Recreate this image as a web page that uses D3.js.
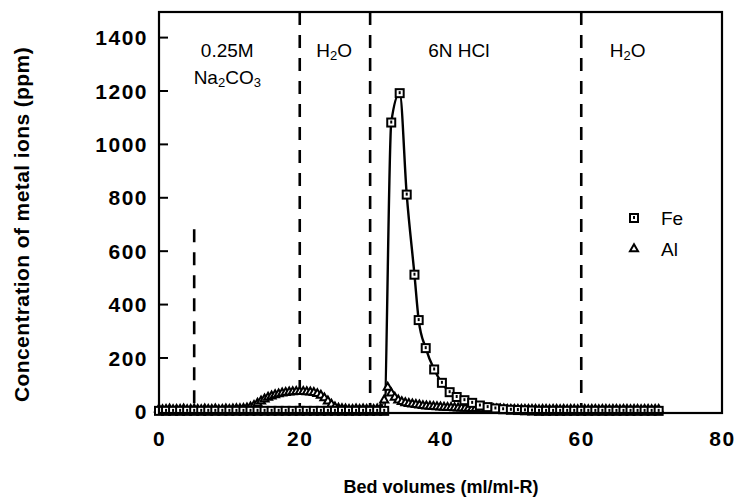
<!DOCTYPE html>
<html>
<meta charset="utf-8">
<style>
  body {
    margin: 0;
    background-color: #fff;
  }
  text {
    font-family: 'Liberation Sans', Arial, sans-serif;
  }
  .tick-label {
    font-weight: bold;
    font-size: 21px;
    letter-spacing: 1.5px;
  }
  .axis-title {
    font-weight: bold;
    font-size: 18px;
  }
  .y-title {
    font-size: 21px;
    letter-spacing: 0.4px;
  }
  .note {
    font-size: 19px;
  }
</style>
<body>
<script src="https://cdn.jsdelivr.net/npm/d3@7"></script>
<script>

// Fe (squares, with line)
var feBV = [0,1,2,3,4,5,6,7,8,9,10,11,12,13,14,15,16,17,18,19,20,21,22,23,24,25,26,27,28,29,30,31,
  32,33,34.2,35.2,36.3,36.9,37.9,39.1,40.2,41.3,42.3,43.4,44.5,45.6,46.7,47.8,48.9,
  50,51,52,53,54,55,56,57,58,59,60,61,62,63,64,65,66,67,68,69,70,71];
var feConc = [0,0,0,0,0,0,0,0,0,0,0,0,0,0,0,0,0,0,0,0,0,0,0,0,0,0,0,0,0,0,0,0,
  0,1080,1190,810,510,340,235,155,105,70,52,40,30,20,14,9,6,
  4,3,2,1,0,0,0,0,0,0,0,0,0,0,0,0,0,0,0,0,0,0];

// Al (triangles)
var alBV = [0,0.5,1,1.5,2,2.5,3,3.5,4,4.5,5,5.5,6,6.5,7,7.5,8,8.5,9,9.5,10,10.5,11,11.5,12,
  12.5,13,13.5,14,14.5,15,15.5,16,16.5,17,
  17.5,18,18.5,19,19.5,20,20.5,21,21.5,22,
  22.5,23,23.5,24,24.5,25,25.5,26,26.5,27,
  27.5,28,28.5,29,29.5,30,30.5,31,31.5,32,
  32.5,33,33.5,34,34.5,35,35.5,36,36.5,37,
  37.5,38,38.5,39,39.5,40,40.5,41,41.5,42,
  42.5,43,43.5,44,44.5,45,45.5,46,46.5,47,
  47.5,48,48.5,49,49.5,50,50.5,51,51.5,52,
  52.5,53,53.5,54,54.5,55,55.5,56,56.5,57,
  57.5,58,58.5,59,59.5,60,60.5,61,61.5,62,
  62.5,63,63.5,64,64.5,65,65.5,66,66.5,67,
  67.5,68,68.5,69,69.5,70,70.5,71];
var alConc = [6,4,5,6,4,5,5,6,4,5,6,5,4,6,5,5,6,4,5,6,5,6,7,7,8,
  10,14,20,28,36,44,50,55,60,63,
  66,68,70,71,72,72,72,71,70,68,
  64,58,48,36,24,14,9,7,6,5,
  5,6,5,6,5,6,5,6,8,40,
  88,66,50,40,34,30,27,25,23,21,
  19,18,17,16,15,14,13,12,12,11,
  10,10,9,9,8,8,8,7,7,7,
  6,6,6,6,5,5,5,5,5,5,
  5,5,5,4,5,5,4,5,5,4,
  5,4,5,5,4,5,5,4,5,5,
  4,5,5,4,5,5,4,5,5,4,
  5,5,4,5,5,4,5,5];

var xTicks = [0, 20, 40, 60, 80];
var yTicks = [0, 200, 400, 600, 800, 1000, 1200, 1400];

// eluent boundaries (dashed) and labels
var stepBV = [5, 20, 30, 60];
var stepTop = [680, null, null, null];
var stepNotes = [
  {bv: 9.7, line1: '0.25M', line2: ['Na', '2', 'CO', '3']},
  {bv: 24.9, line1: ['H', '2', 'O']},
  {bv: 42.6, line1: '6N HCl'},
  {bv: 66.6, line1: ['H', '2', 'O']}
];

var seriesNames = ['Fe', 'Al'];

var margin = {top: 12, right: 17, bottom: 88, left: 159};
var width = 739 - margin.left - margin.right;
var height = 501 - margin.top - margin.bottom;

var x = d3.scaleLinear().domain([0, 80]).range([0, width]);
var y = d3.scaleLinear().domain([-8, 1494]).range([height, 0]);

var svg = d3.select('body')
  .append('svg')
  .attr('width', 739)
  .attr('height', 501)
  .append('g')
  .attr('transform', 'translate(' + margin.left + ',' + margin.top + ')');

// y axis ticks, pointing in
var yAxis = d3.axisLeft(y).tickValues(yTicks).tickFormat(d3.format('d')).tickSize(-9);
var gy = svg.append('g').call(yAxis);
gy.select('.domain').remove();
gy.selectAll('line').attr('stroke', '#000').attr('stroke-width', 2);
gy.selectAll('text')
  .attr('class', 'tick-label')
  .attr('fill', '#000')
  .attr('dy', '0.36em')
  .attr('x', -11);

var xAxis = d3.axisBottom(x).tickValues(xTicks).tickSize(0).tickPadding(18);
var gx = svg.append('g').attr('transform', 'translate(0,' + height + ')').call(xAxis);
gx.select('.domain').remove();
gx.selectAll('text').attr('class', 'tick-label').attr('fill', '#000');

// dashed eluent lines
svg.selectAll('.step')
  .data(stepBV)
  .enter()
  .append('line')
  .attr('class', 'step')
  .attr('x1', function(d) { return x(d); })
  .attr('x2', function(d) { return x(d); })
  .attr('y1', function(d, i) { return stepTop[i] == null ? 0 : y(stepTop[i]); })
  .attr('y2', height)
  .attr('stroke', '#000')
  .attr('stroke-width', 2.6)
  .attr('stroke-dasharray', '13,10');

function addLine(sel, parts, yPos) {
  var t = sel.append('text')
    .attr('class', 'note')
    .attr('y', yPos)
    .attr('text-anchor', 'middle');
  if (typeof parts === 'string') {
    t.text(parts);
    return;
  }
  parts.forEach(function(p, i) {
    var ts = t.append('tspan').text(p);
    if (i % 2 === 1) {
      ts.attr('font-size', '13px').attr('dy', 3);
    } else if (i > 0) {
      ts.attr('dy', -3);
    }
  });
}

stepNotes.forEach(function(n) {
  var g = svg.append('g').attr('transform', 'translate(' + x(n.bv) + ',0)');
  addLine(g, n.line1, 45);
  if (n.line2) addLine(g, n.line2, 72);
});

// Fe line
var line = d3.line()
  .x(function(d) { return x(d[0]); })
  .y(function(d) { return y(d[1]); })
  .curve(d3.curveMonotoneX);

var fePts = feBV.map(function(d, i) { return [d, feConc[i]]; });
var alPts = alBV.map(function(d, i) { return [d, alConc[i]]; });

svg.append('path')
  .datum(alPts)
  .attr('d', line)
  .attr('fill', 'none')
  .attr('stroke', '#000')
  .attr('stroke-width', 1.2);

svg.append('path')
  .datum(fePts)
  .attr('d', line)
  .attr('fill', 'none')
  .attr('stroke', '#000')
  .attr('stroke-width', 2.4);

var tri = d3.symbol().type(d3.symbolTriangle).size(28);

function drawSquare(sel) {
  sel.append('rect')
    .attr('x', -4).attr('y', -4)
    .attr('width', 8).attr('height', 8)
    .attr('fill', '#fff')
    .attr('stroke', '#000')
    .attr('stroke-width', 2);
  sel.append('rect')
    .attr('x', -1).attr('y', -2)
    .attr('width', 2).attr('height', 3)
    .attr('fill', '#000');
}

function drawTri(sel) {
  sel.append('path')
    .attr('d', tri)
    .attr('fill', '#fff')
    .attr('stroke', '#000')
    .attr('stroke-width', 2);
}

svg.append('g')
  .selectAll('g')
  .data(alPts)
  .enter()
  .append('g')
  .attr('transform', function(d) { return 'translate(' + x(d[0]) + ',' + y(d[1]) + ')'; })
  .call(drawTri);

svg.append('g')
  .selectAll('g')
  .data(fePts)
  .enter()
  .append('g')
  .attr('transform', function(d) { return 'translate(' + x(d[0]) + ',' + y(d[1]) + ')'; })
  .call(drawSquare);

// frame
svg.append('rect')
  .attr('width', width)
  .attr('height', height)
  .attr('fill', 'none')
  .attr('stroke', '#000')
  .attr('stroke-width', 2.2);

// legend
var legend = svg.append('g')
  .selectAll('g')
  .data(seriesNames)
  .enter()
  .append('g')
  .attr('transform', function(d, i) { return 'translate(' + 475 + ',' + (206 + i * 31) + ')'; });

legend.each(function(d, i) {
  if (i === 0) d3.select(this).call(drawSquare);
  else d3.select(this).call(drawTri);
});

legend.append('text')
  .attr('class', 'note')
  .attr('x', 27)
  .attr('y', 7)
  .text(function(d) { return d; });

// axis titles
svg.append('text')
  .attr('class', 'axis-title y-title')
  .attr('text-anchor', 'middle')
  .attr('transform', 'translate(' + (-130) + ',' + (height / 2 + 12) + ') rotate(-90)')
  .text('Concentration of metal ions (ppm)');

svg.append('text')
  .attr('class', 'axis-title')
  .attr('text-anchor', 'middle')
  .attr('x', 441 - margin.left)
  .attr('y', 493 - margin.top)
  .text('Bed volumes (ml/ml-R)');

</script>
</body>
</html>
